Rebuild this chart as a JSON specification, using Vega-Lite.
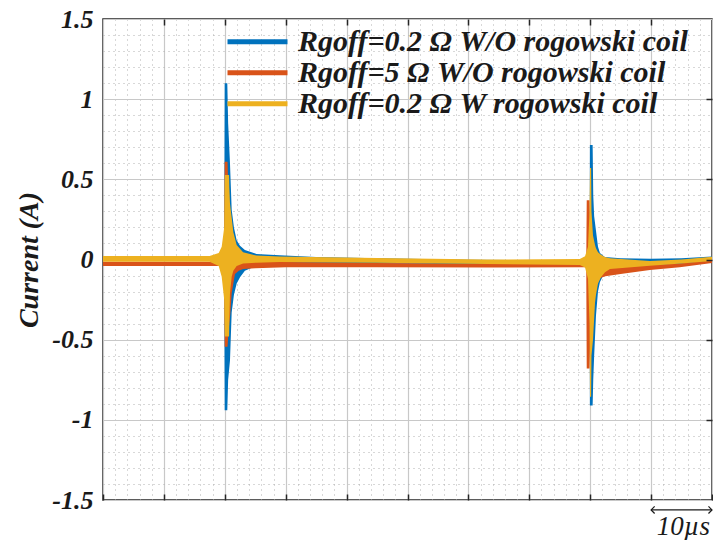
{
  "$schema": "https://vega.github.io/schema/vega-lite/v6.json",
  "width": 609,
  "height": 481,
  "autosize": {"type": "none"},
  "padding": {"left": 103, "top": 19, "right": 1, "bottom": 40},
  "background": "white",
  "config": {"view": {"stroke": "#262626", "strokeWidth": 1.5}, "font": "'Liberation Serif', 'Times New Roman', serif"},
  "data": {"values": [
    {"series": "Rgoff=0.2 Ω W/O rogowski coil", "t": 0, "lo": -0.01, "hi": 0.018},
    {"series": "Rgoff=0.2 Ω W/O rogowski coil", "t": 10, "lo": -0.01, "hi": 0.018},
    {"series": "Rgoff=0.2 Ω W/O rogowski coil", "t": 19.9, "lo": -0.01, "hi": 0.018},
    {"series": "Rgoff=0.2 Ω W/O rogowski coil", "t": 19.98, "lo": -0.94, "hi": 1.10},
    {"series": "Rgoff=0.2 Ω W/O rogowski coil", "t": 20.41, "lo": -0.94, "hi": 1.10},
    {"series": "Rgoff=0.2 Ω W/O rogowski coil", "t": 20.55, "lo": -0.75, "hi": 0.85},
    {"series": "Rgoff=0.2 Ω W/O rogowski coil", "t": 20.85, "lo": -0.63, "hi": 0.60},
    {"series": "Rgoff=0.2 Ω W/O rogowski coil", "t": 21.13, "lo": -0.33, "hi": 0.31},
    {"series": "Rgoff=0.2 Ω W/O rogowski coil", "t": 21.5, "lo": -0.22, "hi": 0.20},
    {"series": "Rgoff=0.2 Ω W/O rogowski coil", "t": 21.95, "lo": -0.15, "hi": 0.12},
    {"series": "Rgoff=0.2 Ω W/O rogowski coil", "t": 22.5, "lo": -0.11, "hi": 0.085},
    {"series": "Rgoff=0.2 Ω W/O rogowski coil", "t": 23.3, "lo": -0.07, "hi": 0.06},
    {"series": "Rgoff=0.2 Ω W/O rogowski coil", "t": 25.2, "lo": -0.04, "hi": 0.035},
    {"series": "Rgoff=0.2 Ω W/O rogowski coil", "t": 29, "lo": -0.025, "hi": 0.026},
    {"series": "Rgoff=0.2 Ω W/O rogowski coil", "t": 35, "lo": -0.025, "hi": 0.016},
    {"series": "Rgoff=0.2 Ω W/O rogowski coil", "t": 45, "lo": -0.025, "hi": 0.008},
    {"series": "Rgoff=0.2 Ω W/O rogowski coil", "t": 60, "lo": -0.03, "hi": -0.002},
    {"series": "Rgoff=0.2 Ω W/O rogowski coil", "t": 78, "lo": -0.03, "hi": -0.005},
    {"series": "Rgoff=0.2 Ω W/O rogowski coil", "t": 79.92, "lo": -0.03, "hi": -0.005},
    {"series": "Rgoff=0.2 Ω W/O rogowski coil", "t": 79.95, "lo": -0.91, "hi": 0.714},
    {"series": "Rgoff=0.2 Ω W/O rogowski coil", "t": 80.4, "lo": -0.91, "hi": 0.714},
    {"series": "Rgoff=0.2 Ω W/O rogowski coil", "t": 80.5, "lo": -0.75, "hi": 0.40},
    {"series": "Rgoff=0.2 Ω W/O rogowski coil", "t": 80.65, "lo": -0.60, "hi": 0.27},
    {"series": "Rgoff=0.2 Ω W/O rogowski coil", "t": 80.95, "lo": -0.35, "hi": 0.18},
    {"series": "Rgoff=0.2 Ω W/O rogowski coil", "t": 81.28, "lo": -0.20, "hi": 0.08},
    {"series": "Rgoff=0.2 Ω W/O rogowski coil", "t": 81.6, "lo": -0.14, "hi": 0.04},
    {"series": "Rgoff=0.2 Ω W/O rogowski coil", "t": 82.4, "lo": -0.08, "hi": 0.015},
    {"series": "Rgoff=0.2 Ω W/O rogowski coil", "t": 85, "lo": -0.05, "hi": 0.008},
    {"series": "Rgoff=0.2 Ω W/O rogowski coil", "t": 90, "lo": -0.04, "hi": 0.005},
    {"series": "Rgoff=0.2 Ω W/O rogowski coil", "t": 95, "lo": -0.03, "hi": 0.008},
    {"series": "Rgoff=0.2 Ω W/O rogowski coil", "t": 100, "lo": -0.015, "hi": 0.018},

    {"series": "Rgoff=5 Ω W/O rogowski coil", "t": 0, "lo": -0.04, "hi": -0.014},
    {"series": "Rgoff=5 Ω W/O rogowski coil", "t": 19.9, "lo": -0.04, "hi": -0.014},
    {"series": "Rgoff=5 Ω W/O rogowski coil", "t": 19.98, "lo": -0.544, "hi": 0.61},
    {"series": "Rgoff=5 Ω W/O rogowski coil", "t": 20.45, "lo": -0.544, "hi": 0.61},
    {"series": "Rgoff=5 Ω W/O rogowski coil", "t": 20.6, "lo": -0.45, "hi": 0.40},
    {"series": "Rgoff=5 Ω W/O rogowski coil", "t": 20.9, "lo": -0.34, "hi": 0.20},
    {"series": "Rgoff=5 Ω W/O rogowski coil", "t": 21.13, "lo": -0.21, "hi": 0.12},
    {"series": "Rgoff=5 Ω W/O rogowski coil", "t": 21.67, "lo": -0.09, "hi": 0.05},
    {"series": "Rgoff=5 Ω W/O rogowski coil", "t": 22.3, "lo": -0.07, "hi": 0.02},
    {"series": "Rgoff=5 Ω W/O rogowski coil", "t": 23.0, "lo": -0.06, "hi": 0.0},
    {"series": "Rgoff=5 Ω W/O rogowski coil", "t": 25, "lo": -0.055, "hi": -0.01},
    {"series": "Rgoff=5 Ω W/O rogowski coil", "t": 30, "lo": -0.048, "hi": -0.015},
    {"series": "Rgoff=5 Ω W/O rogowski coil", "t": 45, "lo": -0.048, "hi": -0.022},
    {"series": "Rgoff=5 Ω W/O rogowski coil", "t": 63, "lo": -0.05, "hi": -0.028},
    {"series": "Rgoff=5 Ω W/O rogowski coil", "t": 79.35, "lo": -0.048, "hi": -0.028},
    {"series": "Rgoff=5 Ω W/O rogowski coil", "t": 79.43, "lo": -0.68, "hi": 0.37},
    {"series": "Rgoff=5 Ω W/O rogowski coil", "t": 79.89, "lo": -0.68, "hi": 0.37},
    {"series": "Rgoff=5 Ω W/O rogowski coil", "t": 80.0, "lo": -0.50, "hi": 0.20},
    {"series": "Rgoff=5 Ω W/O rogowski coil", "t": 80.3, "lo": -0.35, "hi": 0.10},
    {"series": "Rgoff=5 Ω W/O rogowski coil", "t": 80.8, "lo": -0.20, "hi": 0.03},
    {"series": "Rgoff=5 Ω W/O rogowski coil", "t": 81.3, "lo": -0.12, "hi": 0.0},
    {"series": "Rgoff=5 Ω W/O rogowski coil", "t": 82.5, "lo": -0.105, "hi": -0.02},
    {"series": "Rgoff=5 Ω W/O rogowski coil", "t": 85, "lo": -0.09, "hi": -0.03},
    {"series": "Rgoff=5 Ω W/O rogowski coil", "t": 89.8, "lo": -0.066, "hi": -0.035},
    {"series": "Rgoff=5 Ω W/O rogowski coil", "t": 94.7, "lo": -0.048, "hi": -0.025},
    {"series": "Rgoff=5 Ω W/O rogowski coil", "t": 100, "lo": -0.022, "hi": -0.005},

    {"series": "Rgoff=0.2 Ω W rogowski coil", "t": 0, "lo": -0.014, "hi": 0.022},
    {"series": "Rgoff=0.2 Ω W rogowski coil", "t": 17.5, "lo": -0.014, "hi": 0.022},
    {"series": "Rgoff=0.2 Ω W rogowski coil", "t": 19.0, "lo": -0.04, "hi": 0.04},
    {"series": "Rgoff=0.2 Ω W rogowski coil", "t": 19.49, "lo": -0.107, "hi": 0.08},
    {"series": "Rgoff=0.2 Ω W rogowski coil", "t": 19.9, "lo": -0.25, "hi": 0.2},
    {"series": "Rgoff=0.2 Ω W rogowski coil", "t": 20.0, "lo": -0.48, "hi": 0.527},
    {"series": "Rgoff=0.2 Ω W rogowski coil", "t": 20.7, "lo": -0.48, "hi": 0.527},
    {"series": "Rgoff=0.2 Ω W rogowski coil", "t": 20.74, "lo": -0.40, "hi": 0.45},
    {"series": "Rgoff=0.2 Ω W rogowski coil", "t": 20.85, "lo": -0.21, "hi": 0.35},
    {"series": "Rgoff=0.2 Ω W rogowski coil", "t": 21.13, "lo": -0.107, "hi": 0.26},
    {"series": "Rgoff=0.2 Ω W rogowski coil", "t": 21.4, "lo": -0.07, "hi": 0.17},
    {"series": "Rgoff=0.2 Ω W rogowski coil", "t": 21.95, "lo": -0.04, "hi": 0.09},
    {"series": "Rgoff=0.2 Ω W rogowski coil", "t": 23.0, "lo": -0.025, "hi": 0.045},
    {"series": "Rgoff=0.2 Ω W rogowski coil", "t": 25.2, "lo": -0.02, "hi": 0.025},
    {"series": "Rgoff=0.2 Ω W rogowski coil", "t": 29, "lo": -0.016, "hi": 0.018},
    {"series": "Rgoff=0.2 Ω W rogowski coil", "t": 45, "lo": -0.02, "hi": 0.01},
    {"series": "Rgoff=0.2 Ω W rogowski coil", "t": 63, "lo": -0.028, "hi": 0.0},
    {"series": "Rgoff=0.2 Ω W rogowski coil", "t": 78.3, "lo": -0.034, "hi": 0.003},
    {"series": "Rgoff=0.2 Ω W rogowski coil", "t": 79.15, "lo": -0.05, "hi": 0.02},
    {"series": "Rgoff=0.2 Ω W rogowski coil", "t": 79.64, "lo": -0.12, "hi": 0.08},
    {"series": "Rgoff=0.2 Ω W rogowski coil", "t": 79.89, "lo": -0.40, "hi": 0.30},
    {"series": "Rgoff=0.2 Ω W rogowski coil", "t": 79.97, "lo": -0.856, "hi": 0.57},
    {"series": "Rgoff=0.2 Ω W rogowski coil", "t": 80.15, "lo": -0.856, "hi": 0.57},
    {"series": "Rgoff=0.2 Ω W rogowski coil", "t": 80.21, "lo": -0.60, "hi": 0.30},
    {"series": "Rgoff=0.2 Ω W rogowski coil", "t": 80.46, "lo": -0.50, "hi": 0.15},
    {"series": "Rgoff=0.2 Ω W rogowski coil", "t": 80.79, "lo": -0.27, "hi": 0.09},
    {"series": "Rgoff=0.2 Ω W rogowski coil", "t": 80.95, "lo": -0.22, "hi": 0.07},
    {"series": "Rgoff=0.2 Ω W rogowski coil", "t": 81.28, "lo": -0.15, "hi": 0.045},
    {"series": "Rgoff=0.2 Ω W rogowski coil", "t": 81.77, "lo": -0.11, "hi": 0.03},
    {"series": "Rgoff=0.2 Ω W rogowski coil", "t": 82.43, "lo": -0.08, "hi": 0.015},
    {"series": "Rgoff=0.2 Ω W rogowski coil", "t": 83.25, "lo": -0.06, "hi": 0.008},
    {"series": "Rgoff=0.2 Ω W rogowski coil", "t": 89.8, "lo": -0.039, "hi": -0.01},
    {"series": "Rgoff=0.2 Ω W rogowski coil", "t": 95, "lo": -0.025, "hi": 0.0},
    {"series": "Rgoff=0.2 Ω W rogowski coil", "t": 100, "lo": -0.01, "hi": 0.017}
  ]},
  "resolve": {"axis": {"x": "independent", "y": "independent"}},
  "layer": [
    {
      "transform": [{"filter": {"field": "series", "equal": "Rgoff=0.2 Ω W/O rogowski coil"}}],
      "mark": {"type": "area", "interpolate": "linear"},
      "encoding": {
        "x": {"field": "t", "type": "quantitative", "scale": {"domain": [0, 100], "nice": false, "zero": false},
          "axis": {"orient": "bottom", "values": [2,4,6,8,12,14,16,18,22,24,26,28,32,34,36,38,42,44,46,48,52,54,56,58,62,64,66,68,72,74,76,78,82,84,86,88,92,94,96,98],
            "grid": true, "gridDash": [1, 4], "gridColor": "#b0b0b0", "gridWidth": 1, "ticks": false, "labels": false, "domain": false, "title": null, "zindex": 0}},
        "y": {"field": "lo", "type": "quantitative", "scale": {"domain": [-1.5, 1.5], "nice": false, "zero": false},
          "axis": {"orient": "left", "values": [-1.4,-1.3,-1.2,-1.1,-0.9,-0.8,-0.7,-0.6,-0.4,-0.3,-0.2,-0.1,0.1,0.2,0.3,0.4,0.6,0.7,0.8,0.9,1.1,1.2,1.3,1.4],
            "grid": true, "gridDash": [1, 4], "gridColor": "#b0b0b0", "gridWidth": 1, "ticks": false, "labels": false, "domain": false, "title": null, "zindex": 0}},
        "y2": {"field": "hi"},
        "color": {"field": "series", "type": "nominal",
          "scale": {"domain": ["Rgoff=0.2 Ω W/O rogowski coil", "Rgoff=5 Ω W/O rogowski coil", "Rgoff=0.2 Ω W rogowski coil"], "range": ["#0072BD", "#D95319", "#EDB120"]},
          "legend": {"orient": "none", "legendX": 122, "legendY": 8, "title": null, "symbolType": "stroke", "symbolSize": 3600, "symbolStrokeWidth": 5,
            "labelFont": "'Liberation Serif', 'Times New Roman', serif", "labelFontStyle": "italic", "labelFontWeight": "bold", "labelFontSize": 30, "labelColor": "#1a1a1a",
            "labelOffset": 8, "clipHeight": 29.5, "rowPadding": 0, "padding": 0, "labelLimit": 0,
            "encode": {"symbols": {"update": {"stroke": {"scale": "color", "field": "value"}, "fill": {"value": "transparent"}}}}}}
      }
    },
    {
      "transform": [{"filter": {"field": "series", "equal": "Rgoff=5 Ω W/O rogowski coil"}}],
      "mark": {"type": "area", "interpolate": "linear"},
      "encoding": {
        "x": {"field": "t", "type": "quantitative",
          "axis": {"orient": "bottom", "values": [0,10,20,30,40,50,60,70,80,90,100], "grid": true, "gridColor": "#c8c8c8", "gridWidth": 1.2,
            "ticks": true, "tickSize": -6, "tickColor": "#262626", "tickWidth": 1.5, "labels": false, "domain": false, "title": null, "zindex": 0}},
        "y": {"field": "lo", "type": "quantitative",
          "axis": {"orient": "left", "values": [-1.5,-1,-0.5,0,0.5,1,1.5], "labelExpr": "'' + datum.value", "grid": true, "gridColor": "#c8c8c8", "gridWidth": 1.2,
            "ticks": false, "domain": false, "labelPadding": 10,
            "labelFont": "'Liberation Serif', 'Times New Roman', serif", "labelFontStyle": "italic", "labelFontWeight": "bold", "labelFontSize": 26, "labelColor": "#1a1a1a",
            "title": "Current (A)", "titleFont": "'Liberation Serif', 'Times New Roman', serif", "titleFontStyle": "italic", "titleFontWeight": "bold", "titleFontSize": 28, "titleColor": "#1a1a1a", "titlePadding": 8, "zindex": 0}},
        "y2": {"field": "hi"},
        "color": {"field": "series", "type": "nominal"}
      }
    },
    {
      "transform": [{"filter": {"field": "series", "equal": "Rgoff=0.2 Ω W rogowski coil"}}],
      "mark": {"type": "area", "interpolate": "linear"},
      "encoding": {
        "x": {"field": "t", "type": "quantitative",
          "axis": {"orient": "top", "values": [10,20,30,40,50,60,70,80,90], "grid": false, "ticks": true, "tickSize": -6, "tickColor": "#262626", "tickWidth": 1.5,
            "labels": false, "domain": false, "title": null, "zindex": 1}},
        "y": {"field": "lo", "type": "quantitative",
          "axis": {"orient": "right", "values": [-1,-0.5,0,0.5,1], "grid": false, "ticks": true, "tickSize": -6, "tickColor": "#262626", "tickWidth": 1.5,
            "labels": false, "domain": false, "title": null, "zindex": 1}},
        "y2": {"field": "hi"},
        "color": {"field": "series", "type": "nominal"}
      }
    },
    {
      "data": {"values": [{"t1": 90, "t2": 100, "v": -1.562}]},
      "mark": {"type": "rule", "color": "#1a1a1a", "strokeWidth": 1.2},
      "encoding": {
        "x": {"field": "t1", "type": "quantitative", "axis": null},
        "x2": {"field": "t2"},
        "y": {"field": "v", "type": "quantitative", "axis": null}
      }
    },
    {
      "data": {"values": [{"t": 90, "v": -1.562}]},
      "mark": {"type": "point", "shape": "M1,-1L0,0L1,1", "filled": false, "size": 50, "color": "#1a1a1a", "strokeWidth": 1.2, "opacity": 1},
      "encoding": {
        "x": {"field": "t", "type": "quantitative", "axis": null},
        "y": {"field": "v", "type": "quantitative", "axis": null}
      }
    },
    {
      "data": {"values": [{"t": 100, "v": -1.562}]},
      "mark": {"type": "point", "shape": "M-1,-1L0,0L-1,1", "filled": false, "size": 50, "color": "#1a1a1a", "strokeWidth": 1.2, "opacity": 1},
      "encoding": {
        "x": {"field": "t", "type": "quantitative", "axis": null},
        "y": {"field": "v", "type": "quantitative", "axis": null}
      }
    },
    {
      "data": {"values": [{"t": 95.3, "v": -1.668, "label": "10µs"}]},
      "mark": {"type": "text", "font": "'Liberation Serif', 'Times New Roman', serif", "fontStyle": "italic", "fontSize": 27, "color": "#1a1a1a", "align": "center", "baseline": "middle"},
      "encoding": {
        "x": {"field": "t", "type": "quantitative", "axis": null},
        "y": {"field": "v", "type": "quantitative", "axis": null},
        "text": {"field": "label"}
      }
    }
  ]
}
